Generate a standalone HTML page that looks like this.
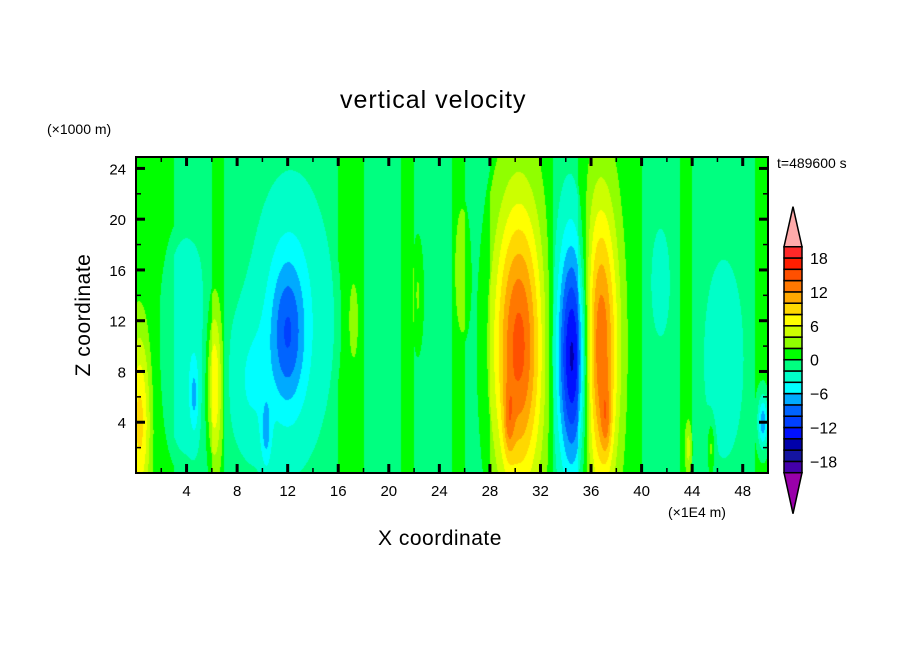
<!DOCTYPE html>
<html><head><meta charset="utf-8">
<style>
body{margin:0;background:#fff;width:904px;height:654px;overflow:hidden;position:relative;font-family:"Liberation Sans","DejaVu Sans",sans-serif;}
.t{position:absolute;color:#000;white-space:nowrap;}
canvas{position:absolute;}
svg{position:absolute;left:0;top:0;}
</style></head>
<body>
<div class="t" style="left:340px;top:86px;font-size:25px;letter-spacing:1px;">vertical velocity</div>
<div class="t" style="left:47px;top:121px;font-size:14px;">(×1000 m)</div>
<div class="t" style="left:777px;top:155px;font-size:14px;">t=489600 s</div>
<div class="t" style="left:668px;top:504px;font-size:14px;">(×1E4 m)</div>
<div class="t" style="left:378px;top:527px;font-size:21px;letter-spacing:0.5px;">X coordinate</div>
<div class="t" style="left:84px;top:315px;font-size:21px;letter-spacing:0.5px;transform:translate(-50%,-50%) rotate(-90deg);">Z coordinate</div>
<canvas id="field" width="632" height="316" style="left:136px;top:157px;"></canvas>
<svg id="ov" width="904" height="654"></svg>
<script>
// ---- data ----
const xDomain=[0,50];
const zDomain=[0,24.9];
const xTicks=[4,8,12,16,20,24,28,32,36,40,44,48];
const zTicks=[4,8,12,16,20,24];
const levels=[-20,-18,-16,-14,-12,-10,-8,-6,-4,-2,0,2,4,6,8,10,12,14,16,18,20];
const levelColors=['#4400aa','#1414a0','#0000aa','#0010ff','#0040ff','#0064ff','#00aaff','#00ffff','#00ffc8','#00ff80','#00ff00','#90ff00','#ccff00','#ffff00','#ffd800','#ffa800','#ff7800','#ff5000','#ff1e00','#ff2828'];
const underColor='#9900aa', overColor='#ffaaaa';
const cbLabels=[18,12,6,0,-6,-12,-18];
// column base value per 1-unit X band (0..50)
const baseCols=[1,1,1,-1,-1,-1,1,-1,-1,-1,-1,-1,-1,-1,-1,-1,1,1,-1,-1,-1,1,-1,-1,-1,1,-1,-1,1,1,1,1,1,-1,-1,1,1,1,1,1,-1,-1,-1,1,-1,-1,-1,-1,-1,1];
// blobs: centre x, centre z, sigma x, sigma z, amplitude
const blobX=[0.3,4,6.2,4.6,9,12,12.3,17.2,25.8,30.3,34.6,34.5,36.7,49.6,46.5,41.5,22.3,29.5,37.2,10.3,43.7,45.5];
const blobZ=[4,10,7,6,7,11,12,12,16,10,9,11,10,4,9,15,14,4,4,3,2,2];
const blobSX=[0.6,1.5,0.45,0.25,1.2,0.9,2.3,0.3,0.4,1.4,0.8,1.5,1.0,0.3,1.2,0.6,0.3,0.3,0.3,0.3,0.2,0.2];
const blobSZ=[5,7,4.5,2,4,4,8,2.5,3.5,8,6,8,8,1.5,6,3.5,3,2,2,2,1.5,1.5];
const blobA=[8,-2.5,8,-4,-2.5,-6,-3.5,3,3,14,-12,-3,14,-8,-2.8,-2.5,3,4,4,-4,4,4];

// ---- scales ----
const PX0=136,PX1=768,PY0=157,PY1=473;
const sx=v=>PX0+(v-xDomain[0])/(xDomain[1]-xDomain[0])*(PX1-PX0);
const sz=v=>PY1-(v-zDomain[0])/(zDomain[1]-zDomain[0])*(PY1-PY0);

function colorFor(v){
  if(v<levels[0])return underColor;
  if(v>=levels[levels.length-1])return overColor;
  for(let i=0;i<levels.length-1;i++){if(v>=levels[i]&&v<levels[i+1])return levelColors[i];}
  return overColor;
}
function hex(c){return [parseInt(c.substr(1,2),16),parseInt(c.substr(3,2),16),parseInt(c.substr(5,2),16)];}

// ---- field ----
const cv=document.getElementById('field');
const ctx=cv.getContext('2d');
const W=cv.width,H=cv.height;
const img=ctx.createImageData(W,H);
for(let py=0;py<H;py++){
  const z=zDomain[1]-(py+0.5)/H*(zDomain[1]-zDomain[0]);
  for(let px=0;px<W;px++){
    const x=xDomain[0]+(px+0.5)/W*(xDomain[1]-xDomain[0]);
    const ci=Math.min(baseCols.length-1,Math.floor(x));
    let v=baseCols[ci]*0.8;
    for(let b=0;b<blobX.length;b++){
      const dx=(x-blobX[b])/blobSX[b],dz=(z-blobZ[b])/blobSZ[b];
      const e=(dx*dx+dz*dz)/2; if(e<12)v+=blobA[b]*Math.exp(-e);
    }
    const c=hex(colorFor(v)),k=(py*W+px)*4;
    img.data[k]=c[0];img.data[k+1]=c[1];img.data[k+2]=c[2];img.data[k+3]=255;
  }
}
ctx.putImageData(img,0,0);

// ---- overlay ----
const NS='http://www.w3.org/2000/svg';
const svg=document.getElementById('ov');
function mk(tag,attrs,parent){const e=document.createElementNS(NS,tag);for(const k in attrs)e.setAttribute(k,attrs[k]);(parent||svg).appendChild(e);return e;}
const frame=mk('rect',{x:PX0,y:PY0,width:PX1-PX0,height:PY1-PY0,fill:'none',stroke:'#000','stroke-width':2});


for(let v=2;v<xDomain[1];v+=2){
  const major=v%4===0,L=major?9:5,x=sx(v);
  const t1=mk('line',{x1:x,y1:PY1,x2:x,y2:PY1-L,stroke:'#000','stroke-width':major?3:1.5});
  
  
  const t2=mk('line',{x1:x,y1:PY0,x2:x,y2:PY0+L,stroke:'#000','stroke-width':major?3:1.5});
  
  
}
for(let v=2;v<zDomain[1];v+=2){
  const major=v%4===0,L=major?9:5,y=sz(v);
  const t1=mk('line',{x1:PX0,y1:y,x2:PX0+L,y2:y,stroke:'#000','stroke-width':major?3:1.5});
  
  
  const t2=mk('line',{x1:PX1,y1:y,x2:PX1-L,y2:y,stroke:'#000','stroke-width':major?3:1.5});
  
  
}
xTicks.forEach(v=>{
  const t=mk('text',{x:sx(v),y:496,'text-anchor':'middle','font-size':15,'font-family':'Liberation Sans, sans-serif'});
  t.textContent=v;
  
  
});
zTicks.forEach(v=>{
  const t=mk('text',{x:126,y:sz(v)+6,'text-anchor':'end','font-size':15,'font-family':'Liberation Sans, sans-serif'});
  t.textContent=v;
  
  
});
// colorbar
const CBX=784,CBW=18,CBT=246.7,CBB=472.7;
const nb=levelColors.length,bh=(CBB-CBT)/nb;
const cby=v=>CBB-(v-levels[0])/(levels[nb]-levels[0])*(CBB-CBT);
for(let i=0;i<nb;i++){
  const r=mk('rect',{x:CBX,y:cby(levels[i+1]),width:CBW,height:bh,fill:levelColors[i],stroke:'#000','stroke-width':1.5});
  
  
}
const up=mk('polygon',{points:`${CBX},${CBT} ${CBX+CBW},${CBT} ${CBX+CBW/2},${CBT-40}`,fill:overColor,stroke:'#000','stroke-width':1.5});


const dn=mk('polygon',{points:`${CBX},${CBB} ${CBX+CBW},${CBB} ${CBX+CBW/2},${CBB+41}`,fill:underColor,stroke:'#000','stroke-width':1.5});


cbLabels.forEach(v=>{
  const t=mk('text',{x:810,y:cby(v)+6,'font-size':16,'font-family':'Liberation Sans, sans-serif'});
  t.textContent=v<0?'\u2212'+(-v):String(v);
  
  
});
</script>
</body></html>
